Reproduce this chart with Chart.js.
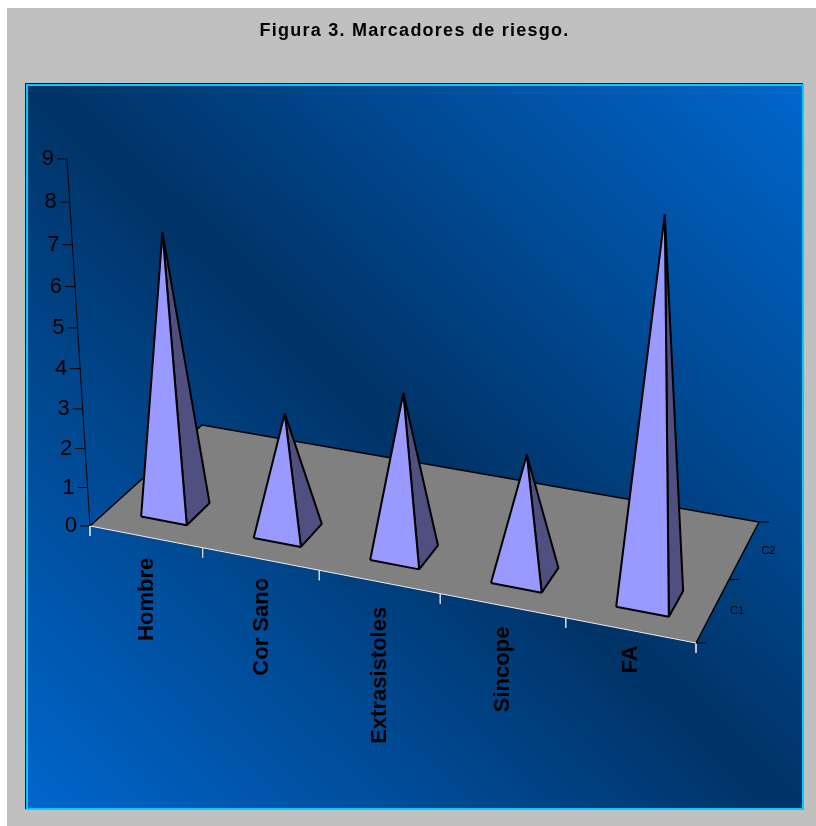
<!DOCTYPE HTML><html><head>
<meta charset="utf-8">
<title>Figura 3. Marcadores de riesgo.</title>
<style>
    html, body { margin: 0; padding: 0; background: #fff; width: 816px; height: 826px; overflow: hidden; }
    #frame { position: absolute; left: 7px; top: 8px; width: 809px; height: 818px; background: #c0c0c0; }
    #panel {
      position: absolute; left: 26px; top: 84px; width: 774px; height: 722px;
      border: 2px solid #00ccff; box-shadow: -1px -1px 0 #001f4d;
      background: linear-gradient(44deg, #0066cc 0%, #003366 50%, #0066cc 100%);
    }
    canvas { position: absolute; left: 0; top: 0; }
</style>
<script src="https://cdn.jsdelivr.net/npm/chart.js@4"></script>
</head>
<body>
<div id="frame"></div>
<div id="panel"></div>
<canvas id="myChart" width="816" height="826"></canvas>
<script>
var categories = ["Hombre", "Cor Sano", "Extrasistoles", "Sincope", "FA"];
var seriesNames = ["C1", "C2"];
var c1Values = [7, 3, 4, 3, 9];
var valueTicks = [0, 1, 2, 3, 4, 5, 6, 7, 8, 9];

// floor corners of the 3d box, in page pixels: front left, front right, back right, back left
var floor = [[90, 526], [696, 643], [759, 522], [202, 425]];
// where the value axis ends at its top (value 9) and how much things spread going up
var axisTop = [67, 159];
var persp = -0.0069;
var halfW = 0.205, halfD = 0.205, depthC = 0.495, centreU = 0.51;
// gap between front edge and the end of each category label, the original is uneven
var labelGap = [21, 19, 25, 21, 15];

// square to quad homography
var P = (function () {
    var x0 = floor[0][0], y0 = floor[0][1], x1 = floor[1][0], y1 = floor[1][1];
    var x2 = floor[2][0], y2 = floor[2][1], x3 = floor[3][0], y3 = floor[3][1];
    var dx1 = x1 - x2, dx2 = x3 - x2, sx = x0 - x1 + x2 - x3;
    var dy1 = y1 - y2, dy2 = y3 - y2, sy = y0 - y1 + y2 - y3;
    var den = dx1 * dy2 - dx2 * dy1;
    var g = (sx * dy2 - sy * dx2) / den, h = (dx1 * sy - sx * dy1) / den;
    var vmax = valueTicks[valueTicks.length - 1];
    return {
        a: x1 - x0 + g * x1, b: x3 - x0 + h * x3, c: x0,
        d: y1 - y0 + g * y1, e: y3 - y0 + h * y3, f: y0, g: g, h: h,
        p: (axisTop[0] * (1 + vmax * persp) - x0) / vmax,
        q: (axisTop[1] * (1 + vmax * persp) - y0) / vmax
    };
})();

// u = category position, d = series position, v = value
function project(u, d, v) {
    var s = u / categories.length, t = d / seriesNames.length;
    var w = P.g * s + P.h * t + 1 + persp * v;
    return {
        x: (P.a * s + P.b * t + P.c + P.p * v) / w,
        y: (P.d * s + P.e * t + P.f + P.q * v) / w
    };
}

var datasets = [];
function shape(points, fillColor, lineColor, lineWidth) {
    datasets.push({
        data: points,
        showLine: true,
        tension: 0,
        pointRadius: 0,
        fill: fillColor ? "shape" : false,
        backgroundColor: fillColor || "transparent",
        borderColor: lineColor || "transparent",
        borderWidth: lineWidth || 0,
        borderJoinStyle: "bevel",
        clip: false,
        order: -datasets.length
    });
}

var n = categories.length, m = seriesNames.length;
var c00 = project(0, 0, 0), c10 = project(n, 0, 0), c11 = project(n, m, 0), c01 = project(0, m, 0);

shape([c00, c10, c11, c01, c00], "#808080");
shape([c00, c01, c11, c10], null, "#000", 1.5);
shape([c00, c10], null, "#eee", 1);

// value axis
shape(valueTicks.map(function (v) { return project(0, 0, v); }), null, "#000", 1);
valueTicks.forEach(function (v) {
    var q = project(0, 0, v);
    shape([q, { x: q.x - 10, y: q.y }], null, "#000", 1);
});
// category ticks, white like the front edge
for (var i = 0; i <= n; i++) {
    var t = project(i, 0, 0);
    shape([t, { x: t.x, y: t.y + 10 }], null, "#d9d9d9", 1);
}
// series ticks
for (var j = 0; j <= m; j++) {
    var r = project(n, j, 0);
    shape([r, { x: r.x + 10, y: r.y }], null, "#000", 1);
}

// pyramids
c1Values.forEach(function (val, i) {
    var u = i + centreU;
    var fl = project(u - halfW, depthC - halfD, 0);
    var fr = project(u + halfW, depthC - halfD, 0);
    var br = project(u + halfW, depthC + halfD, 0);
    var top = project(u, depthC, val);
    shape([fr, br, top, fr], "#505080", "#000", 2);
    shape([fl, fr, top, fl], "#9999ff", "#000", 2);
});

var axisText = {
    id: "axisText",
    beforeDraw: function (chart) {
        // only the title is letter spaced, it is drawn after the datasets with this value
        chart.ctx.letterSpacing = "1.25px";
    },
    afterDatasetsDraw: function (chart) {
        var ctx = chart.ctx, sx = chart.scales.x, sy = chart.scales.y;
        ctx.save();
        ctx.letterSpacing = "0px";
        ctx.fillStyle = "#000";
        ctx.textBaseline = "middle";

        ctx.font = "22px 'Liberation Sans'";
        ctx.textAlign = "right";
        valueTicks.forEach(function (v) {
            var q = project(0, 0, v);
            ctx.fillText(String(v), sx.getPixelForValue(q.x) - 13, sy.getPixelForValue(q.y));
        });

        ctx.font = "bold 22px 'Liberation Sans'";
        categories.forEach(function (c, i) {
            var q = project(i + 0.5, 0, 0);
            ctx.save();
            ctx.translate(sx.getPixelForValue(q.x) + 1, sy.getPixelForValue(q.y) + labelGap[i]);
            ctx.rotate(-Math.PI / 2);
            ctx.fillText(c, 0, 0);
            ctx.restore();
        });

        ctx.font = "11px 'Liberation Sans'";
        ctx.textAlign = "left";
        seriesNames.forEach(function (c, j) {
            var q = project(n, j + 0.5, 0);
            ctx.fillText(c, sx.getPixelForValue(q.x) + 17, sy.getPixelForValue(q.y) + 1);
        });
        ctx.restore();
    }
};

var ctx = document.getElementById("myChart");
var myChart = new Chart(ctx, {
    type: "scatter",
    data: { datasets: datasets },
    plugins: [axisText],
    options: {
        responsive: false,
        animation: false,
        events: [],
        layout: { padding: { left: 26, right: 13, bottom: 17 } },
        scales: {
            // both scales run in page pixels, the projection above already did the 3d part
            x: { type: "linear", display: false, min: 26, max: 803 },
            y: { type: "linear", display: false, min: 84, max: 809, reverse: true }
        },
        plugins: {
            legend: { display: false },
            tooltip: { enabled: false },
            title: {
                display: true,
                fullSize: false,
                text: "Figura 3. Marcadores de riesgo.",
                color: "#000",
                font: { family: "'Liberation Sans'", size: 18, weight: "bold", lineHeight: 1.2 },
                padding: { top: 20, bottom: 42.4 }
            }
        }
    }
});
</script>
</body></html>
